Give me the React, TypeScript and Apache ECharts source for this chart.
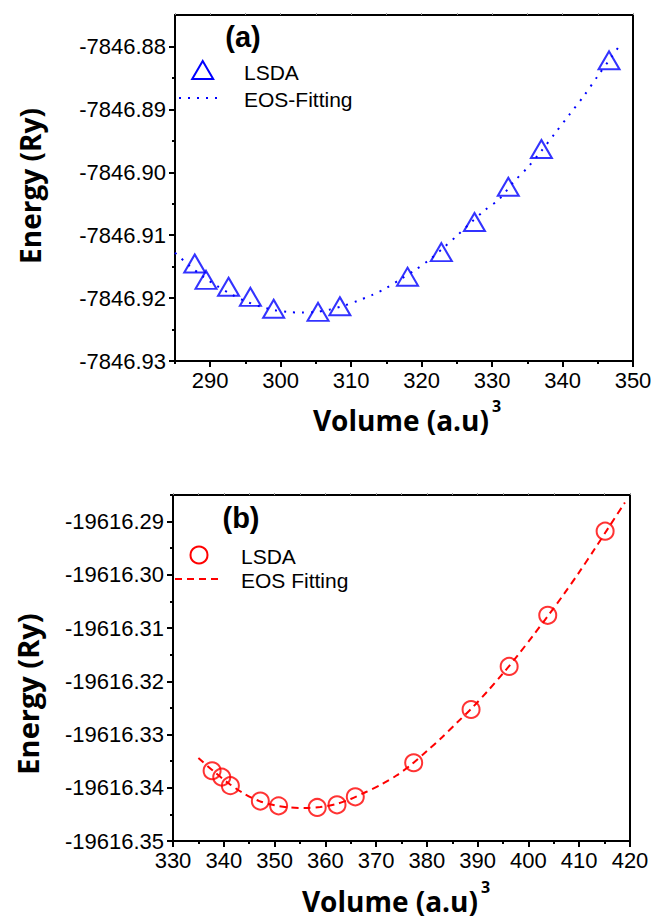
import React, { useEffect, useRef } from "react";
import * as echarts from "echarts";

// ---------- Panel (a) data ----------
const volA = [287.8, 289.4, 292.6, 295.7, 299.0, 305.3, 308.4, 318.0, 322.8, 327.5, 332.3, 337.0, 346.6];
const energyA = [
  -7846.9145, -7846.9171, -7846.9182, -7846.9198, -7846.9217, -7846.9222, -7846.9213,
  -7846.9166, -7846.9127, -7846.9079, -7846.9023, -7846.8963, -7846.8822,
];
const fitVolA = [285, 287, 289, 291, 293, 295, 297, 299, 301, 303, 305, 307, 309, 311, 313, 315, 317, 319, 321, 323, 325, 327, 329, 331, 333, 335, 337, 339, 341, 343, 345, 347, 348];
const fitEnergyA = [
  -7846.9128, -7846.9148, -7846.9166, -7846.9181, -7846.9194, -7846.9205, -7846.9213,
  -7846.9219, -7846.9222, -7846.9223, -7846.9222, -7846.9218, -7846.9212, -7846.9204,
  -7846.9195, -7846.9184, -7846.917, -7846.9156, -7846.914, -7846.9121, -7846.9101,
  -7846.908, -7846.906, -7846.9043, -7846.9016, -7846.8993, -7846.8966, -7846.8937,
  -7846.8908, -7846.8879, -7846.8847, -7846.8816, -7846.88,
];
const xTicksA = [290, 300, 310, 320, 330, 340, 350];
const xMinorA = [285, 295, 305, 315, 325, 335, 345];
const yTicksA = [-7846.93, -7846.92, -7846.91, -7846.9, -7846.89, -7846.88];
const yMinorA = [-7846.925, -7846.915, -7846.905, -7846.895, -7846.885];

// ---------- Panel (b) data ----------
const volB = [337.7, 339.6, 341.3, 347.2, 350.8, 358.4, 362.3, 365.9, 377.4, 388.7, 396.2, 403.8, 415.1];
const energyB = [
  -19616.3368, -19616.338, -19616.3396, -19616.3425, -19616.3434, -19616.3437, -19616.3432,
  -19616.3417, -19616.3353, -19616.3253, -19616.3172, -19616.3076, -19616.2918,
];
const fitVolB = [335, 338, 341, 344, 347, 350, 353, 356, 359, 362, 365, 368, 371, 374, 377, 380, 383, 386, 389, 392, 395, 398, 401, 404, 407, 410, 413, 416, 419];
const fitEnergyB = [
  -19616.3344, -19616.3369, -19616.3392, -19616.3411, -19616.3425, -19616.3433, -19616.3437,
  -19616.3438, -19616.3436, -19616.3431, -19616.3421, -19616.3408, -19616.3394, -19616.3377,
  -19616.3356, -19616.3331, -19616.3305, -19616.3277, -19616.3249, -19616.3218, -19616.3185,
  -19616.315, -19616.3113, -19616.3075, -19616.3036, -19616.2995, -19616.2952, -19616.2908,
  -19616.2864,
];
const xTicksB = [330, 340, 350, 360, 370, 380, 390, 400, 410, 420];
const xMinorB = [335, 345, 355, 365, 375, 385, 395, 405, 415];
const yTicksB = [-19616.35, -19616.34, -19616.33, -19616.32, -19616.31, -19616.3, -19616.29];
const yMinorB = [-19616.345, -19616.335, -19616.325, -19616.315, -19616.305, -19616.295, -19616.285];

const seriesNames = ["LSDA", "EOS-Fitting", "EOS Fitting"];

const LABEL_FONT = "'Liberation Sans', Arial, sans-serif";
const TITLE_FONT = "'Open Sans', 'Noto Sans', sans-serif";
const BLUE = "#0000ff";
const RED = "#ff0000";

function mainX(grid: number, min: number, max: number, ticks: number[]) {
  return {
    type: "value", gridIndex: grid, position: "bottom", min, max,
    axisLine: { show: true, onZero: false, lineStyle: { color: "#000", width: 2 } },
    axisTick: { show: true, inside: false, length: 6, customValues: ticks, lineStyle: { color: "#000", width: 2 } },
    axisLabel: { show: true, customValues: ticks, margin: 8, color: "#000", fontSize: 22, fontFamily: LABEL_FONT, formatter: (v: number) => String(Math.round(v)) },
    splitLine: { show: false },
  };
}
function minorX(grid: number, min: number, max: number, ticks: number[]) {
  return {
    type: "value", gridIndex: grid, position: "bottom", min, max,
    axisLine: { show: false, onZero: false },
    axisTick: { show: true, inside: false, length: 3, customValues: ticks, lineStyle: { color: "#000", width: 2 } },
    axisLabel: { show: false },
    splitLine: { show: false },
  };
}
function topX(grid: number, min: number, max: number, ticks: number[]) {
  return {
    type: "value", gridIndex: grid, position: "top", min, max,
    axisLine: { show: true, onZero: false, lineStyle: { color: "#000", width: 2 } },
    axisTick: { show: true, inside: false, length: 2, customValues: ticks, lineStyle: { color: "#999", width: 1 } },
    axisLabel: { show: false },
    splitLine: { show: false },
  };
}
function mainY(grid: number, min: number, max: number, ticks: number[]) {
  return {
    type: "value", gridIndex: grid, position: "left", min, max,
    axisLine: { show: true, onZero: false, lineStyle: { color: "#000", width: 2 } },
    axisTick: { show: true, inside: false, length: 6, customValues: ticks, lineStyle: { color: "#000", width: 2 } },
    axisLabel: { show: true, customValues: ticks, margin: 9, color: "#000", fontSize: 22, fontFamily: LABEL_FONT, formatter: (v: number) => v.toFixed(2) },
    splitLine: { show: false },
  };
}
function minorY(grid: number, min: number, max: number, ticks: number[]) {
  return {
    type: "value", gridIndex: grid, position: "left", min, max,
    axisLine: { show: false, onZero: false },
    axisTick: { show: true, inside: false, length: 3, customValues: ticks, lineStyle: { color: "#000", width: 2 } },
    axisLabel: { show: false },
    splitLine: { show: false },
  };
}
function rightY(grid: number, min: number, max: number) {
  return {
    type: "value", gridIndex: grid, position: "right", min, max,
    axisLine: { show: true, onZero: false, lineStyle: { color: "#000", width: 2 } },
    axisTick: { show: false },
    axisLabel: { show: false },
    splitLine: { show: false },
  };
}

function zip(a: number[], b: number[]) {
  return a.map((v, i) => [v, b[i]]);
}

export default function App() {
  const ref = useRef<HTMLDivElement>(null);
  useEffect(() => {
    if (!ref.current) return;
    const chart = echarts.init(ref.current, null, { renderer: "svg" });
    const option = {
      animation: false,
      backgroundColor: "#fff",
      grid: [
        { left: 175, top: 15, width: 458, height: 346 },
        { left: 173, top: 495, width: 457, height: 346 },
      ],
      xAxis: [
        mainX(0, 285, 350, xTicksA),
        minorX(0, 285, 350, xMinorA),
        topX(0, 285, 350, [...xTicksA, ...xMinorA]),
        mainX(1, 330, 420, xTicksB),
        minorX(1, 330, 420, xMinorB),
        topX(1, 330, 420, [...xTicksB, ...xMinorB]),
      ],
      yAxis: [
        mainY(0, -7846.93, -7846.875, yTicksA),
        minorY(0, -7846.93, -7846.875, yMinorA),
        rightY(0, -7846.93, -7846.875),
        mainY(1, -19616.35, -19616.285, yTicksB),
        minorY(1, -19616.35, -19616.285, yMinorB),
        rightY(1, -19616.35, -19616.285),
      ],
      series: [
        {
          name: seriesNames[1], type: "line", xAxisIndex: 0, yAxisIndex: 0,
          data: zip(fitVolA, fitEnergyA), showSymbol: false, symbol: "none", smooth: 0.3,
          lineStyle: { color: BLUE, width: 2, type: [2, 7] }, z: 2,
        },
        {
          name: seriesNames[0], type: "scatter", xAxisIndex: 0, yAxisIndex: 0,
          data: zip(volA, energyA), symbol: "triangle", symbolSize: [21, 18],
          itemStyle: { color: "rgba(0,0,0,0)", borderColor: BLUE, borderWidth: 2 }, z: 3,
        },
        {
          name: seriesNames[2], type: "line", xAxisIndex: 3, yAxisIndex: 3,
          data: zip(fitVolB, fitEnergyB), showSymbol: false, symbol: "none", smooth: 0.3,
          lineStyle: { color: RED, width: 2, type: [7, 5] }, z: 2,
        },
        {
          name: seriesNames[0], type: "scatter", xAxisIndex: 3, yAxisIndex: 3,
          data: zip(volB, energyB), symbol: "circle", symbolSize: 17,
          itemStyle: { color: "rgba(0,0,0,0)", borderColor: RED, borderWidth: 2 }, z: 3,
        },
      ],
      graphic: [
        // panel labels
        { type: "text", x: 243, y: 37, style: { text: "(a)", font: `bold 29px ${LABEL_FONT}`, fill: "#000", align: "center", verticalAlign: "middle" } },
        { type: "text", x: 241, y: 518, style: { text: "(b)", font: `bold 29px ${LABEL_FONT}`, fill: "#000", align: "center", verticalAlign: "middle" } },
        // legend (a)
        { type: "polygon", shape: { points: [[192.2, 79], [213.2, 79], [202.7, 61]] }, style: { fill: "none", stroke: BLUE, lineWidth: 2 } },
        { type: "text", x: 244, y: 72, style: { text: "LSDA", font: `21px ${LABEL_FONT}`, fill: "#000", align: "left", verticalAlign: "middle" } },
        { type: "line", shape: { x1: 179, y1: 98, x2: 223, y2: 98 }, style: { stroke: BLUE, lineWidth: 2, lineDash: [2, 7] } },
        { type: "text", x: 244, y: 99, style: { text: "EOS-Fitting", font: `21px ${LABEL_FONT}`, fill: "#000", align: "left", verticalAlign: "middle" } },
        // legend (b)
        { type: "circle", shape: { cx: 199, cy: 555, r: 8.5 }, style: { fill: "none", stroke: RED, lineWidth: 2 } },
        { type: "text", x: 241, y: 556, style: { text: "LSDA", font: `21px ${LABEL_FONT}`, fill: "#000", align: "left", verticalAlign: "middle" } },
        { type: "line", shape: { x1: 175, y1: 579, x2: 222, y2: 579 }, style: { stroke: RED, lineWidth: 2, lineDash: [7, 5] } },
        { type: "text", x: 241, y: 580, style: { text: "EOS Fitting", font: `21px ${LABEL_FONT}`, fill: "#000", align: "left", verticalAlign: "middle" } },
        // axis titles (a)
        { type: "text", x: 30, y: 186, rotation: Math.PI / 2, style: { text: "Energy (Ry)", font: `bold 28px ${TITLE_FONT}`, fill: "#000", align: "center", verticalAlign: "middle" } },
        { type: "text", x: 489, y: 420, style: { text: "Volume (a.u)", font: `bold 28px ${TITLE_FONT}`, fill: "#000", align: "right", verticalAlign: "middle" } },
        { type: "text", x: 492, y: 406, style: { text: "3", font: `bold 16px ${TITLE_FONT}`, fill: "#000", align: "left", verticalAlign: "middle" } },
        // axis titles (b)
        { type: "text", x: 27, y: 694, rotation: Math.PI / 2, style: { text: "Energy (Ry)", font: `bold 29px ${TITLE_FONT}`, fill: "#000", align: "center", verticalAlign: "middle" } },
        { type: "text", x: 478, y: 901, style: { text: "Volume (a.u)", font: `bold 28px ${TITLE_FONT}`, fill: "#000", align: "right", verticalAlign: "middle" } },
        { type: "text", x: 481, y: 887, style: { text: "3", font: `bold 16px ${TITLE_FONT}`, fill: "#000", align: "left", verticalAlign: "middle" } },
      ],
    };
    chart.setOption(option as any);
    return () => chart.dispose();
  }, []);
  return (
    <div
      ref={ref}
      style={{ position: "absolute", left: 0, top: 0, width: 656, height: 920, background: "#fff" }}
    />
  );
}
